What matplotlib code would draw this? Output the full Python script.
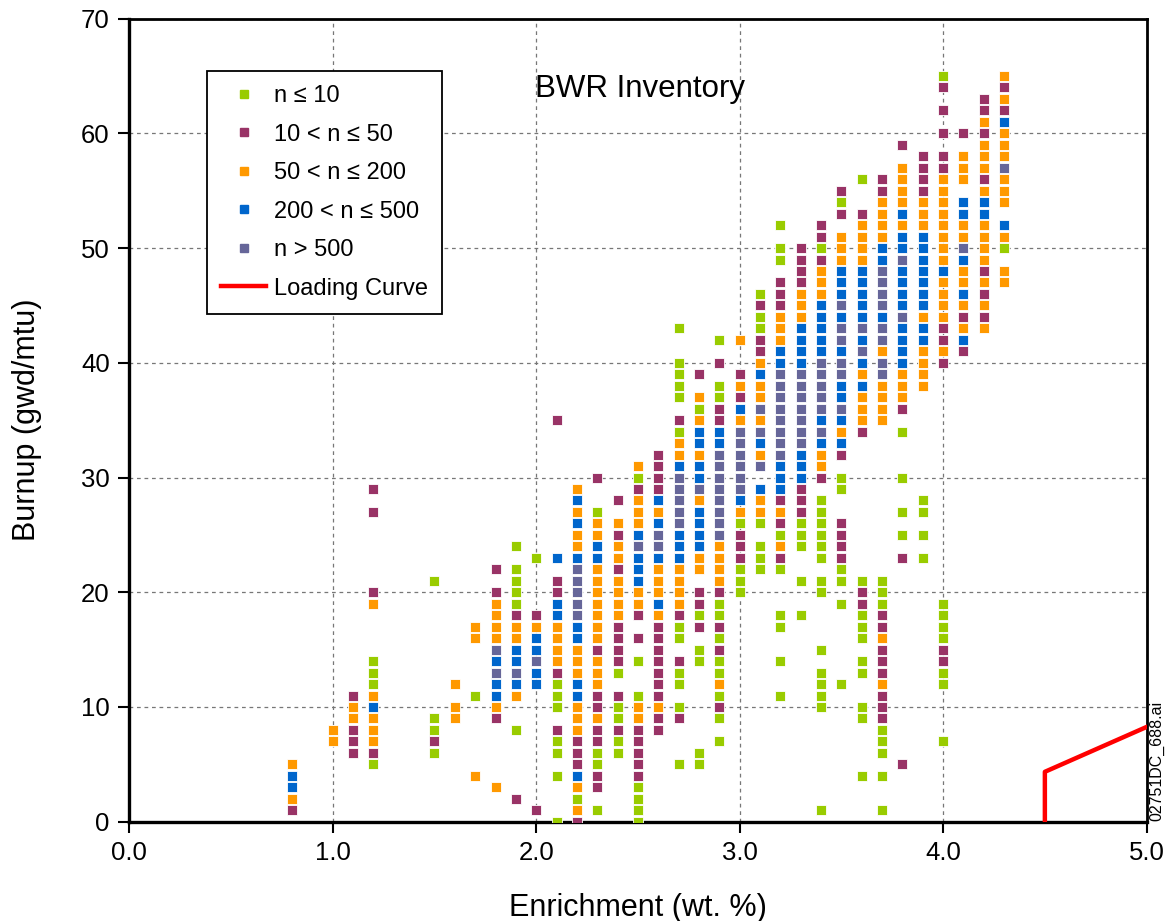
import numpy as np
import matplotlib
matplotlib.use("Agg")
import matplotlib.pyplot as plt
from matplotlib.lines import Line2D

plt.rcParams['font.family'] = ['Liberation Sans', 'DejaVu Sans']

# burnup values (gwd/mtu), keyed by enrichment (wt. %)
n_le_10 = {
    1.2: [14, 13, 12, 5], 1.5: [21, 9, 8, 6], 1.7: [11],
    1.9: [24, 22, 21, 20, 19, 8], 2.0: [23], 2.1: [12, 11, 10, 7, 6, 4, 0],
    2.2: [2], 2.3: [27, 6, 5, 1], 2.4: [13, 10, 9, 7, 6],
    2.5: [30, 14, 11, 3, 2, 1, 0],
    2.7: [43, 40, 39, 38, 37, 34, 17, 16, 13, 12, 10, 5],
    2.8: [36, 18, 15, 14, 6, 5],
    2.9: [42, 38, 37, 19, 18, 16, 14, 13, 11, 9, 7],
    3.0: [26, 22, 21, 20], 3.1: [46, 44, 43, 26, 24, 23, 22],
    3.2: [52, 50, 49, 25, 22, 18, 17, 14, 11],
    3.3: [26, 25, 24, 21, 18],
    3.4: [50, 28, 27, 26, 25, 24, 23, 21, 20, 15, 13, 12, 11, 10, 1],
    3.5: [54, 30, 29, 22, 21, 19, 12],
    3.6: [56, 21, 18, 17, 16, 14, 13, 10, 9, 4],
    3.7: [21, 20, 19, 8, 7, 6, 4, 1], 3.8: [34, 30, 27, 25],
    3.9: [28, 27, 25, 23], 4.0: [65, 19, 18, 17, 16, 13, 12, 7], 4.3: [50],
}

n_10_50 = {
    0.8: [1], 1.1: [11, 8, 7, 6], 1.2: [29, 27, 20, 6], 1.5: [7],
    1.8: [22, 20, 9], 1.9: [18, 2], 2.0: [18, 1], 2.1: [35, 21, 20, 13, 8],
    2.2: [7, 6, 5, 0], 2.3: [30, 15, 11, 10, 8, 7, 4, 3],
    2.4: [28, 25, 22, 17, 16, 15, 14, 11, 8],
    2.5: [29, 18, 16, 8, 7, 6, 5, 4],
    2.6: [32, 31, 30, 29, 17, 16, 15, 14, 13, 12, 11, 9, 8],
    2.7: [35, 18, 14, 9], 2.8: [39, 20, 19, 17],
    2.9: [40, 36, 35, 20, 17, 15, 10], 3.0: [39, 37, 25, 24, 23],
    3.1: [45, 42, 41], 3.2: [47, 46, 45, 28, 26, 23],
    3.3: [50, 49, 48, 47, 29, 28, 27], 3.4: [52, 51, 49, 30],
    3.5: [55, 53, 32, 26, 25, 24, 23], 3.6: [53, 34, 20, 19],
    3.7: [56, 55, 18, 17, 15, 14, 13, 11, 10, 9], 3.8: [59, 36, 23, 5],
    3.9: [58, 57, 56, 55], 4.0: [64, 62, 60, 58, 57, 43, 42, 40, 15, 14],
    4.1: [60, 44, 41], 4.2: [63, 62, 60, 56, 48, 46, 44], 4.3: [64, 62],
}

n_50_200 = {
    0.8: [5, 2], 1.0: [8, 7], 1.1: [10, 9], 1.2: [19, 11, 9, 8, 7],
    1.6: [12, 10, 9], 1.7: [17, 16, 4], 1.8: [19, 18, 17, 16, 10, 3],
    1.9: [17, 16, 11], 2.0: [17], 2.1: [17, 16, 15, 14],
    2.2: [29, 27, 25, 24, 15, 14, 13, 10, 9, 8, 3, 1],
    2.3: [26, 25, 22, 21, 20, 19, 18, 17, 16, 14, 13, 12, 9],
    2.4: [26, 24, 23, 21, 20, 19, 18], 2.5: [31, 28, 27, 26, 20, 19, 10, 9],
    2.6: [27, 22, 21, 20, 18, 10], 2.7: [33, 32, 22, 21, 20, 19],
    2.8: [37, 35, 32, 28, 23, 22], 2.9: [24, 23, 22, 21, 12],
    3.0: [42, 38, 35, 27], 3.1: [40, 38, 37, 35, 32, 28, 27],
    3.2: [44, 43, 42, 27, 24], 3.3: [46, 45, 44], 3.4: [48, 47, 46, 32, 31],
    3.5: [51, 50, 49, 34], 3.6: [52, 51, 50, 49, 39, 37, 36, 35],
    3.7: [54, 53, 52, 51, 41, 38, 37, 36, 35, 16, 12],
    3.8: [57, 56, 55, 54, 52, 39, 38, 37],
    3.9: [54, 53, 52, 44, 41, 40, 39, 38],
    4.0: [56, 55, 54, 53, 52, 51, 50, 49, 47, 46, 45, 44, 41],
    4.1: [58, 57, 56, 52, 51, 48, 47, 45, 43],
    4.2: [61, 59, 58, 57, 55, 52, 51, 50, 49, 47, 45, 43],
    4.3: [65, 63, 60, 59, 58, 56, 55, 54, 51, 48, 47],
}

n_200_500 = {
    0.8: [4, 3], 1.2: [10], 1.8: [14, 12, 11], 1.9: [15, 14, 12],
    2.0: [16, 15, 13, 12], 2.1: [23, 19, 18],
    2.2: [28, 26, 23, 17, 16, 12, 11, 4], 2.3: [24, 23],
    2.5: [25, 23, 22, 21], 2.6: [28, 26, 23, 19], 2.7: [31, 25, 24, 23],
    2.8: [34, 33, 31, 30, 27, 26, 25, 24], 2.9: [34, 33], 3.0: [36, 28],
    3.1: [39, 33, 29], 3.2: [41, 40, 31, 30, 29],
    3.3: [43, 42, 41, 40, 32, 31, 30], 3.4: [45, 44, 43, 42, 41, 35, 33],
    3.5: [48, 47, 46, 44, 41, 38, 37, 35, 33],
    3.6: [48, 47, 46, 45, 44, 42, 40, 38], 3.7: [50, 49, 44],
    3.8: [53, 51, 50, 48, 47, 46, 45, 43, 42, 41, 40],
    3.9: [51, 50, 49, 48, 47, 46, 45, 43, 42], 4.0: [48],
    4.1: [54, 53, 49, 46, 42], 4.2: [54, 53], 4.3: [61, 52],
}

n_gt_500 = {
    1.8: [15, 13], 1.9: [13], 2.0: [14], 2.2: [22, 21, 20, 19, 18],
    2.5: [24], 2.6: [25, 24], 2.7: [30, 29, 28, 27, 26], 2.8: [29],
    2.9: [32, 31, 30, 29, 28, 27, 26, 25], 3.0: [34, 33, 32, 31, 30, 29],
    3.1: [36, 34, 31], 3.2: [39, 38, 37, 36, 35, 34, 33, 32],
    3.3: [39, 38, 37, 36, 35, 34, 33], 3.4: [40, 39, 38, 37, 36, 34],
    3.5: [45, 43, 42, 40, 39, 36], 3.6: [43, 41],
    3.7: [48, 47, 46, 45, 43, 42, 40, 39], 3.8: [49, 44], 4.1: [50],
    4.3: [57],
}

curve_x = [4.5, 4.5, 5.0]
curve_y = [0.0, 4.35, 8.26]

groups = [
    (n_le_10, '#99CC00', 'n \u2264 10'),
    (n_10_50, '#993366', '10 < n \u2264 50'),
    (n_50_200, '#FF9900', '50 < n \u2264 200'),
    (n_200_500, '#0066CC', '200 < n \u2264 500'),
    (n_gt_500, '#666699', 'n > 500'),
]


def flatten(cat):
    xs, ys = [], []
    for e, bs in cat.items():
        xs += [e] * len(bs)
        ys += bs
    return np.array(xs), np.array(ys)


fig = plt.figure(figsize=(11.7, 9.21), dpi=100)
ax = fig.add_axes([0.1105, 0.1078, 0.8695, 0.872])

handles = []
for cat, col, lab in groups:
    x, y = flatten(cat)
    ax.scatter(x, y, marker='s', s=54, c=col, edgecolors='white',
               linewidths=0.6, zorder=3)
    handles.append(Line2D([], [], marker='s', ls='none', color=col,
                          markersize=6, label=lab))

ax.plot(curve_x, curve_y, color='#FF0000', lw=3.2, zorder=4)
handles.append(Line2D([], [], color='#FF0000', lw=3.2, label='Loading Curve'))

ax.set_xlim(0, 5)
ax.set_ylim(0, 70)
ax.set_xticks(np.arange(0, 5.01, 1.0))
ax.set_xticklabels(['0.0', '1.0', '2.0', '3.0', '4.0', '5.0'])
ax.set_yticks(np.arange(0, 71, 10))
ax.grid(True, ls=(0, (3, 3)), color='#777777', lw=0.9, zorder=0)
ax.tick_params(direction='out', length=8, width=1.5, labelsize=18.5, pad=6)

for s in ax.spines.values():
    s.set_linewidth(2.0)
ax.spines['left'].set_linewidth(2.4)
ax.spines['bottom'].set_linewidth(2.4)

ax.set_xlabel('Enrichment (wt. %)', fontsize=22, labelpad=20)
ax.set_ylabel('Burnup (gwd/mtu)', fontsize=22, labelpad=28)

ax.text(2.51, 63.9, 'BWR Inventory', fontsize=22.5, ha='center', va='center')

leg = ax.legend(handles=handles, loc='upper left',
                bbox_to_anchor=(0.0764, 0.935), borderaxespad=0,
                fontsize=17, frameon=True, fancybox=False, framealpha=1,
                edgecolor='black', labelspacing=0.7, handlelength=1.9,
                handletextpad=0.35, borderpad=0.6)
leg.get_frame().set_linewidth(1.3)

fig.text(0.989, 0.1086, '02751DC_688.ai', rotation=90, fontsize=11.5,
         ha='center', va='bottom')

fig.savefig('out.png', dpi=100)
